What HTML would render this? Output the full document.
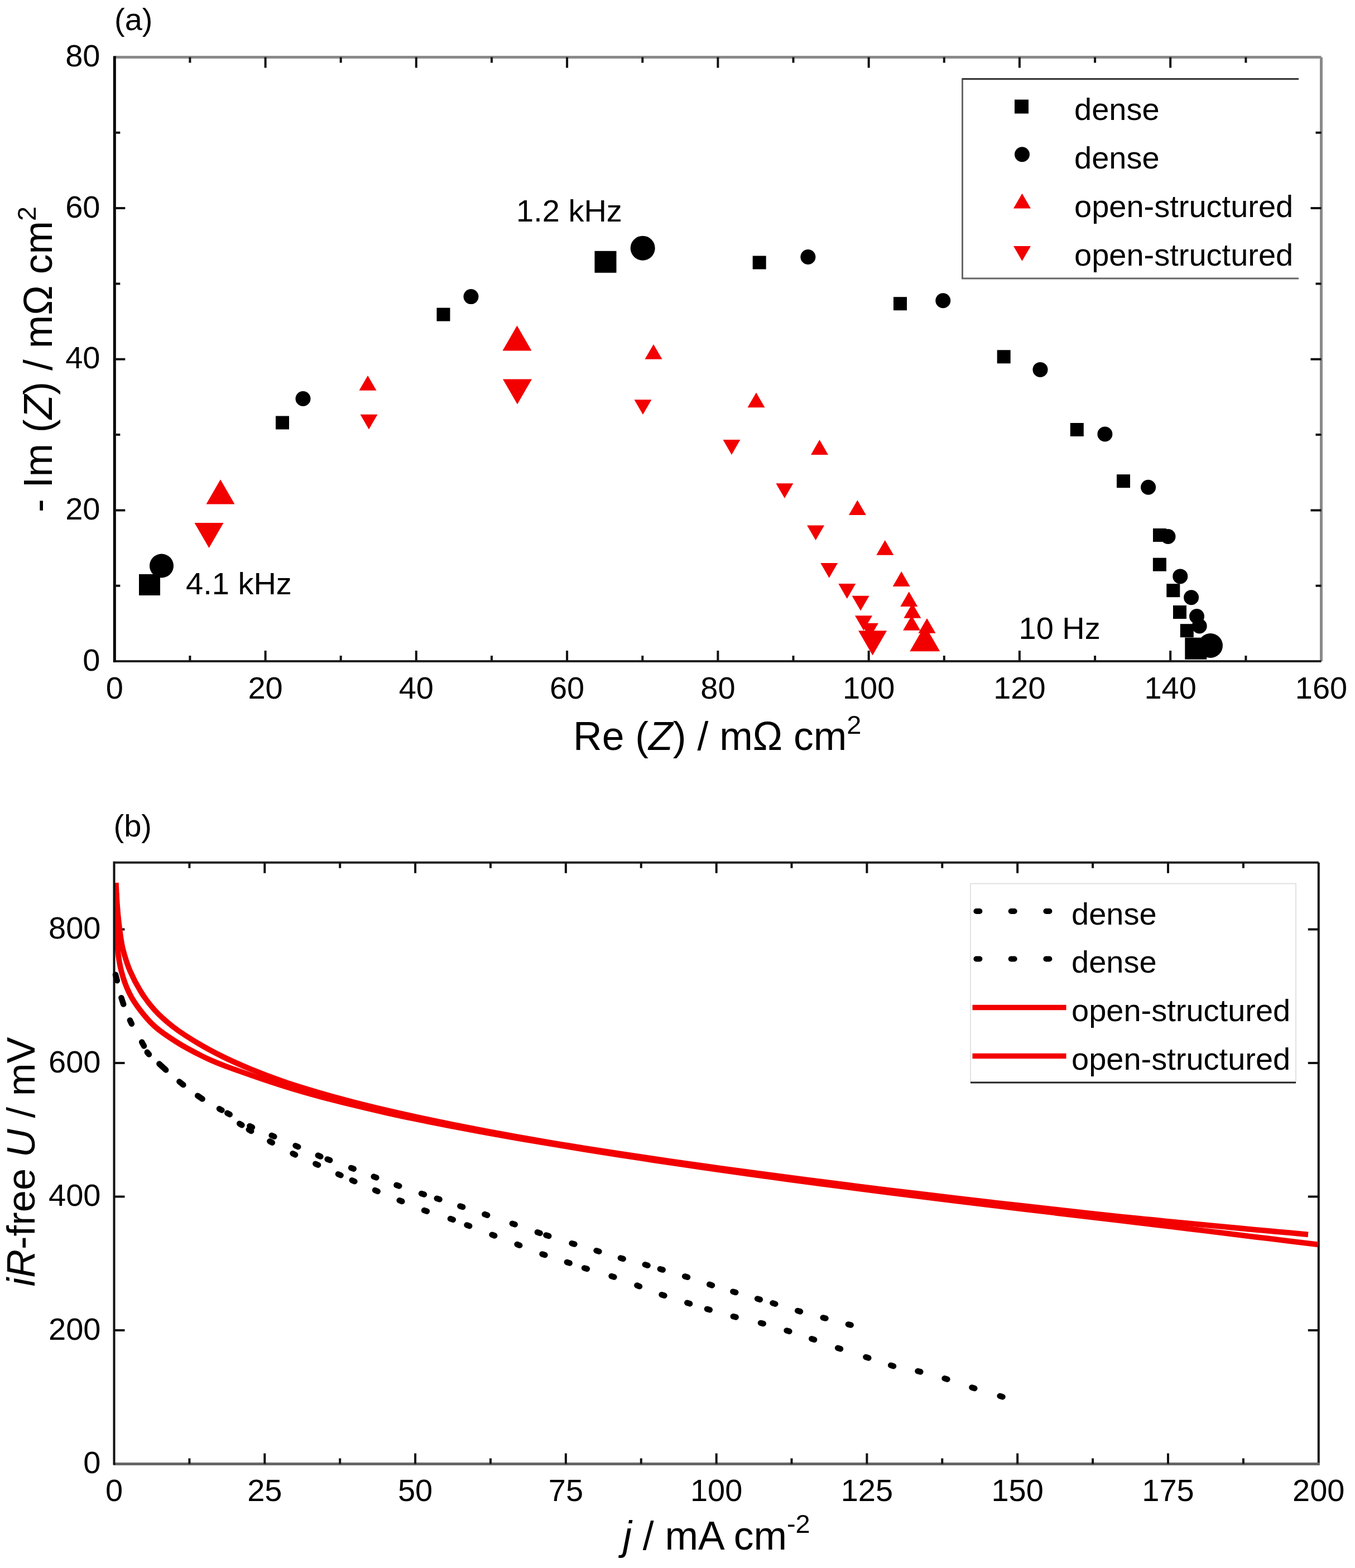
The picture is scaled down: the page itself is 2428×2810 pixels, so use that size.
<!DOCTYPE html>
<html><head><meta charset="utf-8"><title>Impedance and polarization curves</title>
<style>
html,body{margin:0;padding:0;background:#fff;}
svg{display:block;}
text{font-family:'Liberation Sans', Arial, sans-serif;fill:#000;}
</style></head>
<body>
<svg width="2428" height="2810" viewBox="0 0 2428 2810">
<rect width="2428" height="2810" fill="#fff"/>
<line x1="205.3" y1="102.5" x2="2367.5" y2="102.5" stroke="#8a8a8a" stroke-width="5"/>
<line x1="2367.5" y1="102.5" x2="2367.5" y2="1185.0" stroke="#8a8a8a" stroke-width="5"/>
<line x1="205.3" y1="1185.0" x2="2367.5" y2="1185.0" stroke="#222" stroke-width="4"/>
<line x1="205.3" y1="100.5" x2="205.3" y2="1187.0" stroke="#000" stroke-width="5"/>
<path d="M340.4,1185.0v-10M340.4,102.5v10M475.6,1185.0v-19M475.6,102.5v19M610.7,1185.0v-10M610.7,102.5v10M745.8,1185.0v-19M745.8,102.5v19M881.0,1185.0v-10M881.0,102.5v10M1016.1,1185.0v-19M1016.1,102.5v19M1151.3,1185.0v-10M1151.3,102.5v10M1286.4,1185.0v-19M1286.4,102.5v19M1421.5,1185.0v-10M1421.5,102.5v10M1556.7,1185.0v-19M1556.7,102.5v19M1691.8,1185.0v-10M1691.8,102.5v10M1826.9,1185.0v-19M1826.9,102.5v19M1962.1,1185.0v-10M1962.1,102.5v10M2097.2,1185.0v-19M2097.2,102.5v19M2232.4,1185.0v-10M2232.4,102.5v10M205.3,1049.7h10M2367.5,1049.7h-10M205.3,914.4h19M2367.5,914.4h-19M205.3,779.1h10M2367.5,779.1h-10M205.3,643.8h19M2367.5,643.8h-19M205.3,508.4h10M2367.5,508.4h-10M205.3,373.1h19M2367.5,373.1h-19M205.3,237.8h10M2367.5,237.8h-10" stroke="#111" stroke-width="4" fill="none"/>
<text x="205.3" y="1252" font-size="56" text-anchor="middle">0</text>
<text x="475.6" y="1252" font-size="56" text-anchor="middle">20</text>
<text x="745.8" y="1252" font-size="56" text-anchor="middle">40</text>
<text x="1016.1" y="1252" font-size="56" text-anchor="middle">60</text>
<text x="1286.4" y="1252" font-size="56" text-anchor="middle">80</text>
<text x="1556.7" y="1252" font-size="56" text-anchor="middle">100</text>
<text x="1826.9" y="1252" font-size="56" text-anchor="middle">120</text>
<text x="2097.2" y="1252" font-size="56" text-anchor="middle">140</text>
<text x="2367.5" y="1252" font-size="56" text-anchor="middle">160</text>
<text x="179.5" y="1201.5" font-size="56" text-anchor="end">0</text>
<text x="179.5" y="930.9" font-size="56" text-anchor="end">20</text>
<text x="179.5" y="660.2" font-size="56" text-anchor="end">40</text>
<text x="179.5" y="389.6" font-size="56" text-anchor="end">60</text>
<text x="179.5" y="119.0" font-size="56" text-anchor="end">80</text>
<text x="1027" y="1344" font-size="71.5">Re (<tspan font-style="italic">Z</tspan>) / m&#937; cm<tspan font-size="47" dy="-29">2</tspan></text>
<text transform="translate(93,644) rotate(-90)" font-size="71.5" text-anchor="middle">- Im (<tspan font-style="italic">Z</tspan>) / m&#937; cm<tspan font-size="47" dy="-29">2</tspan></text>
<text x="205" y="54" font-size="56">(a)</text>
<text x="925" y="397" font-size="56">1.2 kHz</text>
<text x="333" y="1065" font-size="56">4.1 kHz</text>
<text x="1825.5" y="1145" font-size="56">10 Hz</text>
<rect x="249.0" y="1029.0" width="38" height="38" fill="#000"/>
<rect x="494.0" y="745.5" width="24" height="24" fill="#000"/>
<rect x="782.5" y="551.6" width="24" height="24" fill="#000"/>
<rect x="1065.5" y="449.8" width="39" height="39" fill="#000"/>
<rect x="1348.7" y="458.5" width="24" height="24" fill="#000"/>
<rect x="1601.0" y="532.2" width="24" height="24" fill="#000"/>
<rect x="1786.7" y="627.3" width="24" height="24" fill="#000"/>
<rect x="1917.8" y="758.0" width="24" height="24" fill="#000"/>
<rect x="2001.0" y="850.2" width="24" height="24" fill="#000"/>
<rect x="2066.0" y="947.0" width="24" height="24" fill="#000"/>
<rect x="2065.9" y="999.7" width="24" height="24" fill="#000"/>
<rect x="2090.3" y="1046.2" width="24" height="24" fill="#000"/>
<rect x="2102.0" y="1085.0" width="24" height="24" fill="#000"/>
<rect x="2114.8" y="1118.2" width="24" height="24" fill="#000"/>
<rect x="2123.3" y="1142.7" width="39" height="39" fill="#000"/>
<circle cx="289.5" cy="1014.0" r="21.5" fill="#000"/>
<circle cx="543.0" cy="714.5" r="13.5" fill="#000"/>
<circle cx="844.0" cy="531.6" r="13.5" fill="#000"/>
<circle cx="1151.7" cy="444.7" r="22.0" fill="#000"/>
<circle cx="1447.9" cy="460.5" r="13.5" fill="#000"/>
<circle cx="1689.8" cy="538.7" r="13.5" fill="#000"/>
<circle cx="1864.0" cy="662.4" r="13.5" fill="#000"/>
<circle cx="1979.9" cy="778.0" r="13.5" fill="#000"/>
<circle cx="2057.6" cy="873.3" r="13.5" fill="#000"/>
<circle cx="2093.0" cy="961.5" r="13.5" fill="#000"/>
<circle cx="2114.8" cy="1032.9" r="13.5" fill="#000"/>
<circle cx="2134.6" cy="1070.8" r="13.5" fill="#000"/>
<circle cx="2144.5" cy="1104.5" r="13.5" fill="#000"/>
<circle cx="2149.2" cy="1122.0" r="13.5" fill="#000"/>
<circle cx="2169.0" cy="1157.0" r="22.0" fill="#000"/>
<path d="M395.0,859.2L420.5,903.4L369.5,903.4Z" fill="#f20000"/>
<path d="M659.0,673.0L674.5,699.8L643.5,699.8Z" fill="#f20000"/>
<path d="M926.5,583.4L952.5,628.4L900.5,628.4Z" fill="#f20000"/>
<path d="M1171.0,617.0L1186.5,643.8L1155.5,643.8Z" fill="#f20000"/>
<path d="M1355.0,703.5L1370.5,730.3L1339.5,730.3Z" fill="#f20000"/>
<path d="M1468.5,788.1L1484.0,814.9L1453.0,814.9Z" fill="#f20000"/>
<path d="M1536.4,896.3L1551.9,923.1L1520.9,923.1Z" fill="#f20000"/>
<path d="M1585.8,967.9L1601.3,994.7L1570.3,994.7Z" fill="#f20000"/>
<path d="M1615.2,1024.1L1630.7,1050.9L1599.7,1050.9Z" fill="#f20000"/>
<path d="M1628.8,1060.3L1644.3,1087.1L1613.3,1087.1Z" fill="#f20000"/>
<path d="M1634.9,1081.0L1650.4,1107.8L1619.4,1107.8Z" fill="#f20000"/>
<path d="M1633.6,1103.0L1649.1,1129.8L1618.1,1129.8Z" fill="#f20000"/>
<path d="M1661.0,1108.0L1676.5,1134.8L1645.5,1134.8Z" fill="#f20000"/>
<path d="M1657.3,1120.5L1684.3,1167.3L1630.3,1167.3Z" fill="#f20000"/>
<path d="M348.5,936.9L400.5,936.9L374.5,981.9Z" fill="#f20000"/>
<path d="M645.5,742.7L676.5,742.7L661.0,769.5Z" fill="#f20000"/>
<path d="M901.0,679.6L953.0,679.6L927.0,724.6Z" fill="#f20000"/>
<path d="M1136.5,716.2L1167.5,716.2L1152.0,743.0Z" fill="#f20000"/>
<path d="M1295.5,788.1L1326.5,788.1L1311.0,814.9Z" fill="#f20000"/>
<path d="M1390.4,866.2L1421.4,866.2L1405.9,893.0Z" fill="#f20000"/>
<path d="M1446.1,941.4L1477.1,941.4L1461.6,968.2Z" fill="#f20000"/>
<path d="M1470.2,1008.9L1501.2,1008.9L1485.7,1035.7Z" fill="#f20000"/>
<path d="M1502.3,1046.1L1533.3,1046.1L1517.8,1072.9Z" fill="#f20000"/>
<path d="M1526.6,1067.7L1557.6,1067.7L1542.1,1094.5Z" fill="#f20000"/>
<path d="M1532.0,1103.3L1563.0,1103.3L1547.5,1130.1Z" fill="#f20000"/>
<path d="M1542.9,1116.8L1573.9,1116.8L1558.4,1143.6Z" fill="#f20000"/>
<path d="M1538.1,1130.3L1589.1,1130.3L1563.6,1174.5Z" fill="#f20000"/>
<path d="M2327,141.5H1724.5V499H2327" fill="none" stroke="#666" stroke-width="3"/>
<line x1="1724.5" y1="141.5" x2="2327" y2="141.5" stroke="#333" stroke-width="3"/>
<rect x="1818.0" y="178.5" width="25" height="25" fill="#000"/>
<circle cx="1831.5" cy="276.7" r="13.5" fill="#000"/>
<path d="M1831.5,346.8L1847.0,373.6L1816.0,373.6Z" fill="#f20000"/>
<path d="M1816.0,441.0L1847.0,441.0L1831.5,467.8Z" fill="#f20000"/>
<text x="1925" y="215" font-size="56">dense</text>
<text x="1925" y="302" font-size="56">dense</text>
<text x="1925" y="389" font-size="56">open-structured</text>
<text x="1925" y="476" font-size="56">open-structured</text>
<line x1="204.5" y1="1545.8" x2="2362.8" y2="1545.8" stroke="#222" stroke-width="4"/>
<line x1="2362.8" y1="1545.8" x2="2362.8" y2="2623.6" stroke="#111" stroke-width="4"/>
<line x1="204.5" y1="2623.6" x2="2364.8" y2="2623.6" stroke="#666" stroke-width="5"/>
<path d="M339.4,2623.6v-10M339.4,1545.8v10M474.3,2623.6v-19M474.3,1545.8v19M609.2,2623.6v-10M609.2,1545.8v10M744.1,2623.6v-19M744.1,1545.8v19M879.0,2623.6v-10M879.0,1545.8v10M1013.9,2623.6v-19M1013.9,1545.8v19M1148.8,2623.6v-10M1148.8,1545.8v10M1283.7,2623.6v-19M1283.7,1545.8v19M1418.5,2623.6v-10M1418.5,1545.8v10M1553.4,2623.6v-19M1553.4,1545.8v19M1688.3,2623.6v-10M1688.3,1545.8v10M1823.2,2623.6v-19M1823.2,1545.8v19M1958.1,2623.6v-10M1958.1,1545.8v10M2093.0,2623.6v-19M2093.0,1545.8v19M2227.9,2623.6v-10M2227.9,1545.8v10M204.5,2384.1h19M2362.8,2384.1h-19M204.5,2144.6h19M2362.8,2144.6h-19M204.5,1905.1h19M2362.8,1905.1h-19M204.5,1665.6h19M2362.8,1665.6h-19" stroke="#111" stroke-width="4" fill="none"/>
<text x="204.5" y="2690" font-size="56" text-anchor="middle">0</text>
<text x="474.3" y="2690" font-size="56" text-anchor="middle">25</text>
<text x="744.1" y="2690" font-size="56" text-anchor="middle">50</text>
<text x="1013.9" y="2690" font-size="56" text-anchor="middle">75</text>
<text x="1283.7" y="2690" font-size="56" text-anchor="middle">100</text>
<text x="1553.4" y="2690" font-size="56" text-anchor="middle">125</text>
<text x="1823.2" y="2690" font-size="56" text-anchor="middle">150</text>
<text x="2093.0" y="2690" font-size="56" text-anchor="middle">175</text>
<text x="2362.8" y="2690" font-size="56" text-anchor="middle">200</text>
<text x="180.5" y="2640.1" font-size="56" text-anchor="end">0</text>
<text x="180.5" y="2400.6" font-size="56" text-anchor="end">200</text>
<text x="180.5" y="2161.1" font-size="56" text-anchor="end">400</text>
<text x="180.5" y="1921.6" font-size="56" text-anchor="end">600</text>
<text x="180.5" y="1682.1" font-size="56" text-anchor="end">800</text>
<text x="1116" y="2777" font-size="71.5"><tspan font-style="italic">j</tspan> / mA cm<tspan font-size="47" dy="-30">-2</tspan></text>
<text transform="translate(61.5,2082) rotate(-90)" font-size="70.6" text-anchor="middle"><tspan font-style="italic">iR</tspan>-free <tspan font-style="italic">U</tspan> / mV</text>
<text x="203.5" y="1499" font-size="56">(b)</text>
<path d="M208.6,1600.0C208.7,1613.3 208.6,1625.3 208.9,1640.0C209.3,1658.0 209.1,1682.1 210.8,1700.0C212.2,1714.7 213.9,1726.8 217.3,1740.0C220.8,1753.5 225.8,1767.9 231.8,1780.0C237.3,1791.1 243.6,1800.3 251.0,1810.0C258.9,1820.3 267.4,1830.6 278.0,1840.0C290.1,1850.7 306.3,1861.1 320.6,1870.0C334.0,1878.3 349.9,1886.4 361.0,1892.0C368.5,1895.8 373.8,1898.2 380.3,1901.0C386.8,1903.8 391.9,1905.9 400.0,1909.0C412.8,1913.9 432.5,1920.8 450.0,1926.8C469.1,1933.4 489.9,1940.5 510.0,1946.7C529.9,1952.9 550.0,1958.7 570.0,1964.2C590.0,1969.7 610.0,1974.6 630.0,1979.5C650.0,1984.4 670.0,1989.1 690.0,1993.6C710.0,1998.1 730.0,2002.3 750.0,2006.5C770.0,2010.6 790.0,2014.6 810.0,2018.4C830.0,2022.3 850.0,2026.0 870.0,2029.7C890.0,2033.3 910.0,2036.8 930.0,2040.3C950.0,2043.7 970.0,2047.0 990.0,2050.4C1010.0,2053.7 1030.0,2057.0 1050.0,2060.3C1070.0,2063.5 1090.0,2066.7 1110.0,2069.8C1130.0,2073.0 1150.0,2076.0 1170.0,2079.1C1190.0,2082.1 1210.0,2085.1 1230.0,2088.0C1250.0,2090.9 1270.0,2093.8 1290.0,2096.7C1310.0,2099.5 1330.0,2102.3 1350.0,2105.1C1370.0,2107.8 1390.0,2110.6 1410.0,2113.3C1430.0,2116.0 1450.0,2118.6 1470.0,2121.3C1490.0,2123.9 1510.0,2126.5 1530.0,2129.1C1550.0,2131.7 1570.0,2134.3 1590.0,2136.8C1610.0,2139.3 1630.0,2141.9 1650.0,2144.3C1670.0,2146.8 1690.0,2149.3 1710.0,2151.8C1730.0,2154.2 1750.0,2156.6 1770.0,2159.1C1790.0,2161.5 1810.0,2163.9 1830.0,2166.4C1850.0,2168.8 1870.0,2171.2 1890.0,2173.5C1910.0,2175.9 1930.0,2178.3 1950.0,2180.6C1970.0,2183.0 1990.0,2185.3 2010.0,2187.7C2030.0,2190.1 2050.0,2192.5 2070.0,2194.9C2090.0,2197.3 2110.0,2199.7 2130.0,2202.1C2150.0,2204.5 2170.0,2207.0 2190.0,2209.4C2210.0,2211.9 2230.0,2214.3 2250.0,2216.8C2270.0,2219.2 2290.7,2221.7 2310.0,2224.1C2328.0,2226.2 2344.7,2228.2 2362.0,2230.3" fill="none" stroke="#f20000" stroke-width="9.8" stroke-linejoin="round"/>
<path d="M207.8,1582.0C208.3,1591.3 208.6,1600.5 209.2,1610.0C209.8,1619.8 210.5,1630.0 211.5,1640.0C212.5,1650.0 213.6,1660.0 215.0,1670.0C216.4,1680.0 217.4,1689.4 220.0,1700.0C223.1,1712.5 227.5,1726.9 233.0,1740.0C238.8,1753.6 246.5,1767.9 254.2,1780.0C261.2,1791.0 268.2,1800.4 277.0,1810.0C286.6,1820.5 297.7,1830.4 310.0,1840.0C323.6,1850.5 340.1,1860.9 355.4,1870.0C370.1,1878.8 384.6,1886.4 400.0,1894.0C416.1,1901.9 432.5,1909.1 450.0,1916.3C469.0,1924.1 489.9,1932.0 510.0,1938.9C529.9,1945.8 550.0,1951.8 570.0,1957.7C590.0,1963.6 610.0,1969.1 630.0,1974.3C650.0,1979.5 670.0,1984.4 690.0,1989.1C710.0,1993.8 730.0,1998.2 750.0,2002.5C770.0,2006.9 790.0,2011.0 810.0,2015.1C830.0,2019.1 850.0,2023.0 870.0,2026.8C890.0,2030.6 910.0,2034.2 930.0,2037.8C950.0,2041.4 970.0,2044.9 990.0,2048.3C1010.0,2051.7 1030.0,2054.9 1050.0,2058.1C1070.0,2061.3 1090.0,2064.4 1110.0,2067.4C1130.0,2070.5 1150.0,2073.4 1170.0,2076.4C1190.0,2079.3 1210.0,2082.2 1230.0,2085.1C1250.0,2087.9 1270.0,2090.7 1290.0,2093.5C1310.0,2096.3 1330.0,2099.0 1350.0,2101.7C1370.0,2104.4 1390.0,2107.0 1410.0,2109.6C1430.0,2112.3 1450.0,2114.8 1470.0,2117.4C1490.0,2120.0 1510.0,2122.5 1530.0,2125.0C1550.0,2127.5 1570.0,2130.0 1590.0,2132.5C1610.0,2134.9 1630.0,2137.3 1650.0,2139.7C1670.0,2142.2 1690.0,2144.6 1710.0,2146.9C1730.0,2149.3 1750.0,2151.6 1770.0,2153.9C1790.0,2156.2 1810.0,2158.5 1830.0,2160.7C1850.0,2163.0 1870.0,2165.2 1890.0,2167.4C1910.0,2169.6 1930.0,2171.8 1950.0,2174.0C1970.0,2176.2 1990.0,2178.4 2010.0,2180.5C2030.0,2182.6 2050.0,2184.5 2070.0,2186.5C2090.0,2188.5 2110.0,2190.6 2130.0,2192.5C2150.0,2194.5 2170.0,2196.4 2190.0,2198.2C2210.0,2200.1 2230.0,2201.9 2250.0,2203.8C2270.0,2205.6 2292.8,2207.7 2310.0,2209.2C2322.9,2210.4 2332.7,2211.3 2344.0,2212.3" fill="none" stroke="#f20000" stroke-width="9.8" stroke-linejoin="round"/>
<line x1="204.5" y1="1543.8" x2="204.5" y2="2625.6" stroke="#111" stroke-width="4"/>
<path d="M207.0,1746.7L209.8,1757.3M217.4,1788.2L221.2,1799.6M232.9,1828.4L235.9,1834.8M254.2,1867.5L258.0,1874.5M263.8,1885.8L267.0,1889.6M285.4,1906.6L297.2,1917.4M321.4,1938.5L328.4,1944.1M354.2,1963.7L362.6,1969.3M393.0,1987.1L397.4,1989.5M407.3,1994.8L411.7,1997.2M447.5,2017.9L451.9,2020.1M486.7,2034.8L491.3,2036.8M529.6,2053.2L534.2,2055.2M569.8,2070.6L574.4,2072.6M586.6,2077.4L591.2,2079.2M629.1,2092.9L633.7,2094.7M669.7,2108.6L674.3,2110.4M710.5,2123.8L715.3,2125.4M755.1,2138.9L759.9,2140.5M782.8,2147.7L787.6,2149.3M824.4,2161.5L829.2,2163.1M868.4,2176.1L873.2,2177.7M917.9,2192.7L922.7,2194.3M962.9,2208.3L967.7,2209.9M978.5,2213.5L983.3,2215.1M1024.6,2228.2L1029.4,2229.6M1068.6,2241.3L1073.4,2242.7M1111.9,2254.5L1116.7,2255.9M1155.8,2266.3L1160.6,2267.7M1182.9,2274.2L1187.7,2275.6M1227.2,2287.4L1232.0,2288.8M1271.2,2301.8L1276.0,2303.4M1313.4,2314.7L1318.2,2316.1M1357.1,2327.5L1361.9,2328.9M1384.5,2335.3L1389.3,2336.7M1429.2,2349.0L1434.0,2350.4M1474.7,2361.4L1479.5,2362.6M1519.9,2373.4L1524.7,2374.6" stroke="#000" stroke-width="10.5" stroke-linecap="round" fill="none"/>
<path d="M429.2,2013.7L433.4,2016.3M445.8,2024.4L450.2,2027.0M483.4,2045.3L487.8,2047.7M524.6,2067.2L529.0,2069.4M565.4,2085.7L570.0,2087.7M606.0,2104.2L610.6,2106.2M630.8,2115.2L635.4,2117.2M672.1,2133.0L676.7,2135.0M715.7,2151.2L720.3,2153.0M760.1,2169.1L764.9,2170.7M807.0,2184.1L811.8,2185.7M836.6,2195.4L841.2,2197.2M881.6,2212.7L886.2,2214.5M926.6,2230.0L931.2,2231.8M971.6,2247.4L976.4,2249.0M1015.9,2262.0L1020.7,2263.6M1047.1,2272.5L1051.9,2273.9M1095.6,2286.9L1100.4,2288.5M1141.4,2303.5L1146.0,2305.3M1185.6,2320.2L1190.4,2321.8M1231.3,2334.7L1236.1,2336.3M1267.0,2345.9L1271.8,2347.3M1313.8,2359.2L1318.6,2360.4M1363.0,2370.9L1367.8,2372.1M1409.6,2384.5L1414.4,2385.9M1454.3,2399.2L1459.1,2400.8M1501.2,2415.7L1506.0,2417.3M1551.5,2431.9L1556.3,2433.5M1596.2,2446.8L1601.0,2448.2M1644.5,2457.2L1649.3,2458.4M1692.6,2470.3L1697.4,2471.7M1741.5,2486.4L1746.3,2488.0M1791.7,2501.8L1796.5,2503.2" stroke="#000" stroke-width="10.5" stroke-linecap="round" fill="none"/>
<path d="M1739,1940V1583.6H2322V1940" fill="none" stroke="#e2e2e2" stroke-width="2"/>
<line x1="1739" y1="1940" x2="2322" y2="1940" stroke="#222" stroke-width="3"/>
<path d="M1749.4,1633h6M1811.7,1633h6M1874.4,1633h6M1749.4,1718.5h6M1811.7,1718.5h6M1874.4,1718.5h6" stroke="#000" stroke-width="10" stroke-linecap="round"/>
<line x1="1742.5" y1="1805.4" x2="1910.5" y2="1805.4" stroke="#f20000" stroke-width="9.5"/>
<line x1="1742.5" y1="1892.6" x2="1910.5" y2="1892.6" stroke="#f20000" stroke-width="9.5"/>
<text x="1920" y="1657" font-size="56">dense</text>
<text x="1920" y="1743" font-size="56">dense</text>
<text x="1920" y="1830" font-size="56">open-structured</text>
<text x="1920" y="1917" font-size="56">open-structured</text>
</svg>
</body></html>
